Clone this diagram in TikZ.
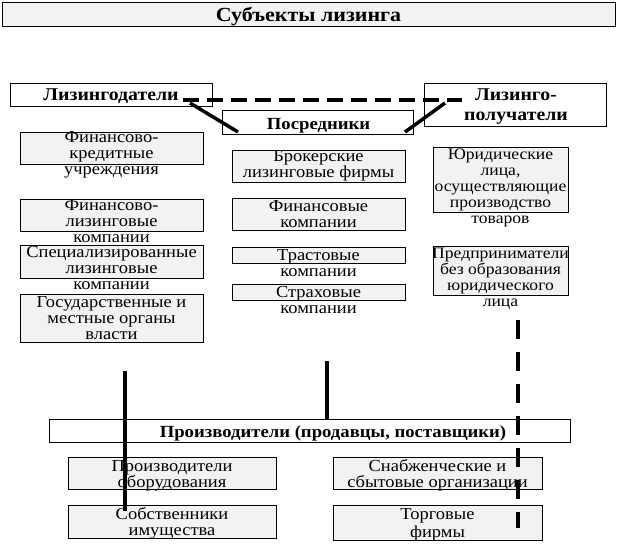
\documentclass[tikz,border=0pt]{standalone}
\usepackage{fontspec}
\setmainfont{Liberation Serif}[FakeStretch=1.1]
\usetikzlibrary{calc}
\tikzset{
  fbox/.style={draw, line width=0.9pt, fill=black!5, inner sep=0pt, outer sep=0pt, anchor=north west},
  wbox/.style={draw, line width=0.9pt, fill=white, inner sep=0pt, outer sep=0pt, anchor=north west},
  txt/.style={anchor=base, align=center, inner sep=0pt, font=\fontsize{16.8}{16}\selectfont},
  rtxt/.style={txt, font=\fontsize{16}{16}\selectfont},
  btxt/.style={anchor=base, align=center, inner sep=0pt, font=\fontsize{18}{20}\selectfont\bfseries},
  sbtxt/.style={anchor=base, align=center, inner sep=0pt, font=\fontsize{17}{20}\selectfont\bfseries},
  ttxt/.style={anchor=base, align=center, inner sep=0pt, font=\fontsize{20}{22}\selectfont\bfseries},
  solidline/.style={line width=3.5pt},
  dashline/.style={line width=3.5pt, dash pattern=on 16pt off 8pt},
  vdashline/.style={line width=3.5pt, dash pattern=on 19pt off 13pt},
}
% name, x1, y1, x2, y2, style
\newcommand\mkbox[6]{%
  \node[#6, minimum width={#4-#2}, minimum height={#5-#3}] (#1) at (#2,#3) {};}
\begin{document}
\begin{tikzpicture}[x=1pt, y=-1pt]
\useasboundingbox (0,0) rectangle (617,545);
% title
\mkbox{title}{2}{2}{615}{26}{fbox}
\node[ttxt] (titlet) at ($(title.north)+(0,20)$) {Субъекты лизинга};
% top row
\mkbox{lessor}{10}{83}{212}{106}{wbox}
\node[btxt] (lessort) at ($(lessor.north)+(0,18)$) {Лизингодатели};
\mkbox{mid}{222}{110}{413}{134}{wbox}
\node[sbtxt] (midt) at ($(mid.north)+(1,20)$) {Посредники};
\mkbox{lessee}{424}{83}{606}{126}{wbox}
\node[btxt] (lesseet) at ($(lessee.north)+(1,38)$) {Лизинго-\\получатели};
% left column
\mkbox{l1}{20}{132}{203}{164}{fbox}
\node[txt] (l1t) at ($(l1.north)+(0,43)$) {Финансово-\\кредитные\\учреждения};
\mkbox{l2}{20}{199}{203}{231}{fbox}
\node[txt] (l2t) at ($(l2.north)+(0,43)$) {Финансово-\\лизинговые\\компании};
\mkbox{l3}{20}{245}{203}{278}{fbox}
\node[txt] (l3t) at ($(l3.north)+(0,44)$) {Специализированные\\лизинговые\\компании};
\mkbox{l4}{20}{294}{203}{342}{fbox}
\node[txt] (l4t) at ($(l4.north)+(0,45)$) {Государственные и\\местные органы\\власти};
% middle column
\mkbox{m1}{232}{150}{405}{182}{fbox}
\node[txt] (m1t) at ($(m1.north)+(0,28)$) {Брокерские\\лизинговые фирмы};
\mkbox{m2}{232}{198}{405}{230}{fbox}
\node[txt] (m2t) at ($(m2.north)+(0,29)$) {Финансовые\\компании};
\mkbox{m3}{232}{247}{405}{263}{fbox}
\node[txt] (m3t) at ($(m3.north)+(0,29)$) {Трастовые\\компании};
\mkbox{m4}{232}{284}{405}{300}{fbox}
\node[txt] (m4t) at ($(m4.north)+(0,29)$) {Страховые\\компании};
% right column
\mkbox{r1}{433}{147}{568}{212}{fbox}
\node[rtxt] (r1t) at ($(r1.north)+(0,76)$) {Юридические\\лица,\\осуществляющие\\производство\\товаров};
\mkbox{r2}{433}{246}{568}{295}{fbox}
\node[rtxt] (r2t) at ($(r2.north)+(0,60)$) {Предприниматели\\без образования\\юридического\\лица};
% bottom
\mkbox{prod}{49}{419}{570}{442}{wbox}
\node[sbtxt] (prodt) at (333,437) {Производители (продавцы, поставщики)};
\mkbox{b1}{68}{457}{276}{489}{fbox}
\node[txt] (b1t) at ($(b1.north)+(0,30)$) {Производители\\оборудования};
\mkbox{b2}{333}{457}{542}{489}{fbox}
\node[txt] (b2t) at ($(b2.north)+(0,30)$) {Снабженческие и\\сбытовые организации};
\mkbox{b3}{68}{505}{276}{538}{fbox}
\node[txt] (b3t) at ($(b3.north)+(0,30)$) {Собственники\\имущества};
\mkbox{b4}{333}{505}{542}{540}{fbox}
\node[txt] (b4t) at ($(b4.north)+(0,32)$) {Торговые\\[2pt]фирмы};
% connectors
\coordinate (d1) at (183,100);
\coordinate (d2) at (462,100);
\draw[dashline] (d1) -- (d2);
\coordinate (a1) at (190,103);
\coordinate (a2) at (238,132);
\draw[solidline] (a1) -- (a2);
\coordinate (c1) at (445,103);
\coordinate (c2) at (405,132);
\draw[solidline] (c1) -- (c2);
\coordinate (v1) at (125,371);
\coordinate (v2) at (125,511);
\draw[solidline] (v1) -- (v2);
\coordinate (w1) at (327,361);
\draw[solidline] (w1) -- (prod.north -| w1);
\coordinate (u1) at (518,320);
\coordinate (u2) at (518,528);
\draw[vdashline] (u1) -- (u2);
\end{tikzpicture}
\end{document}
